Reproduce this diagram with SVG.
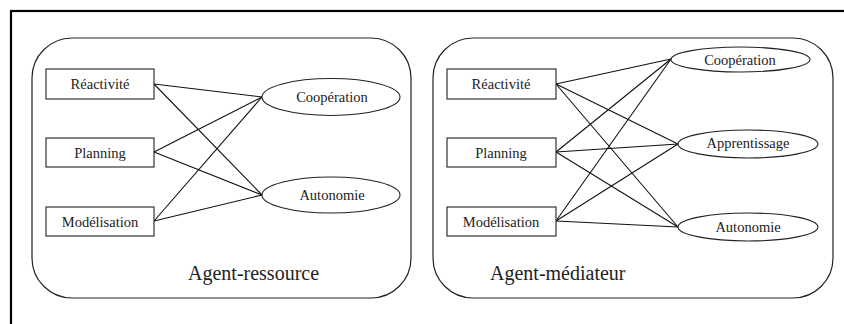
<svg xmlns="http://www.w3.org/2000/svg" width="844" height="324" viewBox="0 0 844 324">
<style>
.frame{fill:none;stroke:#000;stroke-width:2.2}
.box{fill:none;stroke:#222;stroke-width:1.2}
.n{fill:#fff;stroke:#222;stroke-width:1.1}
.t{font-family:"Liberation Serif",serif;font-size:14.5px;fill:#222;text-anchor:middle}
.big{font-family:"Liberation Serif",serif;font-size:20px;fill:#222}
.c line{stroke:#111;stroke-width:1.1}
</style>
<rect width="844" height="324" fill="#fff"/>
<rect class="frame" x="11" y="11" width="900" height="400"/>
<g id="group-ressource">
<rect class="box" x="32" y="38" width="379" height="260" rx="40" ry="40"/>
<text class="big" x="188" y="280">Agent-ressource</text>
</g>
<g id="group-mediateur">
<rect class="box" x="433" y="38" width="400" height="260" rx="40" ry="40"/>
<text class="big" x="490" y="280">Agent-médiateur</text>
</g>
<g id="connectors" class="c">
<line x1="154" y1="84" x2="262" y2="97"/>
<line x1="154" y1="84" x2="262" y2="195"/>
<line x1="154" y1="152" x2="262" y2="97"/>
<line x1="154" y1="152" x2="262" y2="195"/>
<line x1="154" y1="221" x2="262" y2="97"/>
<line x1="154" y1="221" x2="262" y2="195"/>
<line x1="556" y1="84" x2="671" y2="59"/>
<line x1="556" y1="84" x2="678" y2="144"/>
<line x1="556" y1="84" x2="678" y2="227"/>
<line x1="556" y1="152" x2="671" y2="59"/>
<line x1="556" y1="152" x2="678" y2="144"/>
<line x1="556" y1="152" x2="678" y2="227"/>
<line x1="556" y1="221" x2="671" y2="59"/>
<line x1="556" y1="221" x2="678" y2="144"/>
<line x1="556" y1="221" x2="678" y2="227"/>
</g>
<g id="r-reactivite"><rect class="n" x="46" y="69" width="108" height="30"/><text class="t" x="100" y="89">Réactivité</text></g>
<g id="r-planning"><rect class="n" x="46" y="138" width="108" height="29"/><text class="t" x="100" y="158">Planning</text></g>
<g id="r-modelisation"><rect class="n" x="46" y="207" width="108" height="29"/><text class="t" x="100" y="227">Modélisation</text></g>
<g id="r-cooperation"><ellipse class="n" cx="331" cy="97" rx="69" ry="18.5"/><text class="t" x="332" y="102">Coopération</text></g>
<g id="r-autonomie"><ellipse class="n" cx="331" cy="195" rx="69" ry="18"/><text class="t" x="332" y="200">Autonomie</text></g>
<g id="m-reactivite"><rect class="n" x="447" y="69" width="109" height="30"/><text class="t" x="501" y="89">Réactivité</text></g>
<g id="m-planning"><rect class="n" x="447" y="138" width="109" height="29"/><text class="t" x="501" y="158">Planning</text></g>
<g id="m-modelisation"><rect class="n" x="447" y="207" width="109" height="29"/><text class="t" x="501" y="227">Modélisation</text></g>
<g id="m-cooperation"><ellipse class="n" cx="740.5" cy="59.5" rx="69.5" ry="12.5"/><text class="t" x="740" y="65">Coopération</text></g>
<g id="m-apprentissage"><ellipse class="n" cx="748" cy="144" rx="70" ry="14"/><text class="t" x="748" y="148">Apprentissage</text></g>
<g id="m-autonomie"><ellipse class="n" cx="748" cy="227" rx="70" ry="14"/><text class="t" x="748" y="232">Autonomie</text></g>
</svg>
